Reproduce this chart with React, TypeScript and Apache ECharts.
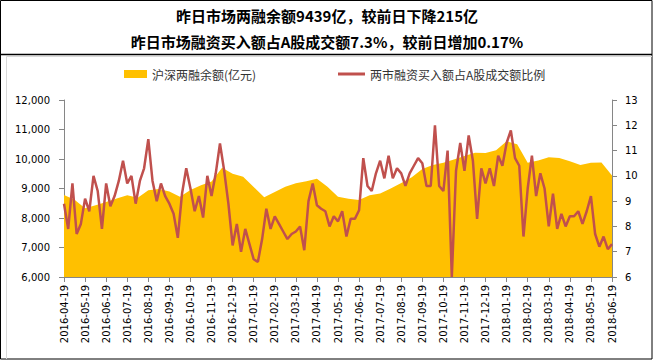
import React, { useEffect, useRef } from 'react';
import * as echarts from 'echarts';

const title1 = '昨日市场两融余额9439亿，较前日下降215亿';
const title2 = '昨日市场融资买入额占A股成交额7.3%，较前日增加0.17%';
const balanceName = '沪深两融余额(亿元)';
const ratioName = '两市融资买入额占A股成交额比例';

const monthLabels = [
  '2016-04-19', '2016-05-19', '2016-06-19', '2016-07-19', '2016-08-19', '2016-09-19',
  '2016-10-19', '2016-11-19', '2016-12-19', '2017-01-19', '2017-02-19', '2017-03-19',
  '2017-04-19', '2017-05-19', '2017-06-19', '2017-07-19', '2017-08-19', '2017-09-19',
  '2017-10-19', '2017-11-19', '2017-12-19', '2018-01-19', '2018-02-19', '2018-03-19',
  '2018-04-19', '2018-05-19', '2018-06-19',
];

// margin balance (亿元), one reading every half month from 2016-04-19
const balanceStep = 0.5;
const balance = [
  8780, 8620, 8330, 8430, 8540, 8660, 8770, 8690, 8940, 8980,
  8900, 8720, 8950, 9110, 9240, 9700, 9500, 9400, 9050, 8700,
  8880, 9060, 9180, 9250, 9330, 9060, 8720, 8650, 8610, 8770,
  8830, 9000, 9190, 9380, 9660, 9800, 9870, 9980, 10100, 10210,
  10200, 10300, 10600, 10500, 9870, 9950, 10060, 10030, 9920, 9800,
  9870, 9880, 9440,
];

// financing buy / A-share turnover (%), one reading every 0.2 month
const ratioStep = 0.2;
const ratio = [
  8.9, 7.9, 9.7, 7.7, 8.1, 9.1, 8.6, 10.0, 9.4, 7.9,
  9.7, 8.8, 9.2, 9.8, 10.6, 9.7, 10.0, 8.9, 9.8, 10.3,
  11.45, 9.8, 9.0, 9.7, 9.2, 8.9, 8.5, 7.55, 9.3, 10.3,
  9.5, 8.6, 9.2, 8.35, 10.0, 9.2, 10.1, 11.28, 10.2, 8.9,
  7.25, 8.1, 7.0, 7.9, 7.3, 6.7, 6.6, 7.5, 8.7, 7.9,
  8.4, 8.1, 7.8, 7.5, 7.7, 7.8, 8.0, 7.06, 9.0, 9.7,
  8.84, 8.7, 8.6, 8.0, 8.4, 8.2, 8.6, 7.6, 8.3, 8.3,
  8.64, 10.7, 9.6, 9.4, 10.1, 10.6, 9.9, 10.8, 9.9, 10.3,
  10.1, 9.6, 10.1, 10.4, 10.7, 10.5, 9.6, 9.6, 12.0, 9.6,
  9.4, 11.0, 6.0, 10.2, 11.3, 10.2, 11.6, 10.6, 8.3, 10.3,
  9.7, 10.3, 9.6, 10.8, 10.4, 11.3, 11.8, 10.7, 10.4, 7.6,
  9.5, 10.8, 9.2, 10.1, 9.5, 8.0, 9.3, 7.9, 8.5, 8.0,
  8.4, 8.4, 8.6, 8.1, 8.6, 9.2, 7.7, 7.2, 7.6, 7.1,
  7.3,
];

const axisGray = '#868686';
const labelFont = 'DejaVu Sans';
const cjkFont = 'Noto Sans CJK SC';

export default function App() {
  const ref = useRef<HTMLDivElement>(null);

  useEffect(() => {
    document.body.style.margin = '0';
    if (!ref.current) return;
    const chart = echarts.init(ref.current, null, { renderer: 'svg' });
    const option: any = {
      animation: false,
      backgroundColor: '#ffffff',
      title: [
        {
          text: title1, left: 'center', top: 8, padding: 0,
          textStyle: { fontSize: 15, fontWeight: 'bold', color: '#000', fontFamily: cjkFont },
        },
        {
          text: title2, left: 'center', top: 34, padding: 0,
          textStyle: { fontSize: 15, fontWeight: 'bold', color: '#000', fontFamily: cjkFont },
        },
      ],
      legend: [
        {
          data: [{ name: balanceName, icon: 'rect' }],
          left: 124, top: 68, padding: 0,
          itemWidth: 23, itemHeight: 8,
          textStyle: { fontSize: 12, color: '#333', fontFamily: cjkFont },
        },
        {
          data: [{ name: ratioName, icon: 'rect' }],
          left: 338, top: 68, padding: 0,
          itemWidth: 27, itemHeight: 3,
          textStyle: { fontSize: 12, color: '#333', fontFamily: cjkFont },
        },
      ],
      grid: { left: 64, right: 42, top: 100, bottom: 84 },
      xAxis: [
        {
          type: 'category',
          data: monthLabels,
          boundaryGap: false,
          axisLine: { lineStyle: { color: axisGray } },
          axisTick: { show: true, interval: 0, length: 5, lineStyle: { color: axisGray } },
          axisLabel: { interval: 0, rotate: 90, fontSize: 10, color: '#000', margin: 8, fontFamily: labelFont },
          splitLine: { show: false },
        },
        { type: 'value', min: 0, max: monthLabels.length - 1, show: false },
      ],
      yAxis: [
        {
          type: 'value', position: 'left', min: 6000, max: 12000, interval: 1000,
          axisLine: { show: true, lineStyle: { color: axisGray } },
          axisTick: { show: true, length: 5, lineStyle: { color: axisGray } },
          splitLine: { show: false },
          axisLabel: {
            fontSize: 10, color: '#000', margin: 14, fontFamily: labelFont,
            formatter: (v: number) => v.toLocaleString('en-US'),
          },
        },
        {
          type: 'value', position: 'right', min: 6, max: 13, interval: 1,
          axisLine: { show: true, lineStyle: { color: axisGray } },
          axisTick: { show: true, length: 5, lineStyle: { color: axisGray } },
          splitLine: { show: false },
          axisLabel: { fontSize: 10, color: '#000', margin: 13, fontFamily: labelFont },
        },
      ],
      series: [
        {
          name: balanceName,
          type: 'line',
          xAxisIndex: 1,
          yAxisIndex: 0,
          data: balance.map((v, j) => [j * balanceStep, v]),
          symbol: 'none',
          lineStyle: { width: 0 },
          itemStyle: { color: '#FFC000' },
          areaStyle: { color: '#FFC000', opacity: 1, origin: 'start' },
          z: 1,
        },
        {
          name: ratioName,
          type: 'line',
          xAxisIndex: 1,
          yAxisIndex: 1,
          data: ratio.map((v, i) => [i * ratioStep, v]),
          symbol: 'none',
          lineStyle: { width: 2.5, color: '#C0504D' },
          itemStyle: { color: '#C0504D' },
          z: 2,
        },
      ],
      graphic: [
        { type: 'rect', shape: { x: 0.5, y: 0.5, width: 651.5, height: 358.5 }, style: { fill: 'none', stroke: '#000', lineWidth: 1 }, silent: true },
        { type: 'line', shape: { x1: 0, y1: 54.5, x2: 652, y2: 54.5 }, style: { stroke: '#000', lineWidth: 1.5 }, silent: true },
        { type: 'line', shape: { x1: 6.5, y1: 56.5, x2: 6.5, y2: 359 }, style: { stroke: '#d9d9d9', lineWidth: 1 }, silent: true },
        { type: 'line', shape: { x1: 6.5, y1: 56.5, x2: 652, y2: 56.5 }, style: { stroke: '#d9d9d9', lineWidth: 1 }, silent: true },
      ],
    };
    chart.setOption(option);
    return () => chart.dispose();
  }, []);

  return <div ref={ref} style={{ width: 654, height: 361 }} />;
}
